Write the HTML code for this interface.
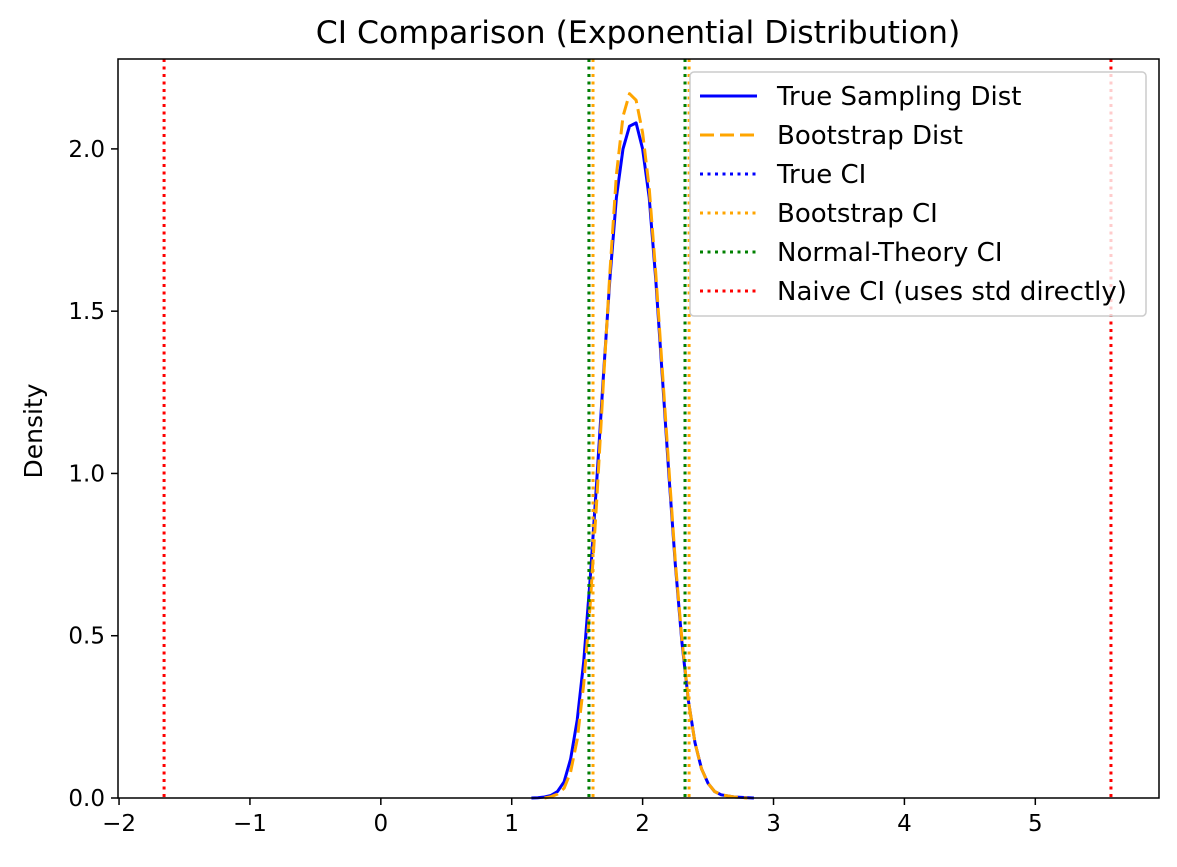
<!DOCTYPE html>
<html><head><meta charset="utf-8"><style>
body{margin:0;background:#fff}
svg text{font-family:"DejaVu Sans","Liberation Sans",sans-serif;fill:#000}
</style></head><body>
<svg id="chart" width="1177" height="862" xmlns="http://www.w3.org/2000/svg">
<text x="638" y="43" font-size="31.5" text-anchor="middle">CI Comparison (Exponential Distribution)</text>
<text x="0" y="0" font-size="25" text-anchor="middle" transform="translate(42,431) rotate(-90)">Density</text>
<g id="plot"></g>
<rect x="118" y="59" width="1041" height="739" fill="none" stroke="#000" stroke-width="1.5"/>
<g id="legend"></g>
</svg>
<script>
const xTicks=[-2,-1,0,1,2,3,4,5];
const yTicks=[0,0.5,1.0,1.5,2.0];
const yTickLabels=["0.0","0.5","1.0","1.5","2.0"];
const trueX=[1.15,1.2,1.25,1.3,1.35,1.4,1.45,1.5,1.55,1.6,1.65,1.7,1.75,1.8,1.85,1.9,1.95,2.0,2.05,2.1,2.15,2.2,2.25,2.3,2.35,2.4,2.45,2.5,2.55,2.6,2.7,2.85];
const trueY=[0,0.001,0.003,0.008,0.02,0.05,0.12,0.24,0.42,0.68,0.98,1.3,1.6,1.85,2.0,2.07,2.08,2.0,1.85,1.6,1.3,1.0,0.72,0.48,0.3,0.17,0.09,0.045,0.02,0.01,0.003,0];
const bootX=[1.25,1.3,1.35,1.4,1.45,1.5,1.55,1.6,1.65,1.7,1.75,1.8,1.85,1.9,1.95,2.0,2.05,2.1,2.15,2.2,2.25,2.3,2.35,2.4,2.45,2.5,2.55,2.6,2.7,2.8];
const bootY=[0,0.004,0.012,0.03,0.08,0.18,0.35,0.6,0.92,1.28,1.62,1.92,2.1,2.17,2.15,2.05,1.88,1.62,1.32,1.02,0.73,0.49,0.3,0.17,0.09,0.045,0.02,0.01,0.003,0];
const ciNames=["true-ci","bootstrap-ci","normal-theory-ci","naive-ci"];
const ciLow=[1.59,1.621,1.59,-1.656];
const ciHigh=[2.324,2.355,2.324,5.578];
const ciColors=["blue","orange","green","red"];
const legendLabels=["True Sampling Dist","Bootstrap Dist","True CI","Bootstrap CI","Normal-Theory CI","Naive CI (uses std directly)"];
const legendColors=["blue","orange","blue","orange","green","red"];
const legendDash=["","14,6","3,4.5","3,4.5","3,4.5","3,4.5"];

const NS="http://www.w3.org/2000/svg";
const X0=-2.008,X1=5.945,Y0=0,Y1=2.277;
const L=118,R=1159,T=59,B=798;
const sx=v=>L+(v-X0)/(X1-X0)*(R-L);
const sy=v=>B-(v-Y0)/(Y1-Y0)*(B-T);
const plot=document.getElementById('plot');
function mk(tag,attrs,parent){const e=document.createElementNS(NS,tag);for(const k in attrs)e.setAttribute(k,attrs[k]);parent.appendChild(e);return e;}
xTicks.forEach(t=>{
  const l=mk('line',{x1:sx(t),x2:sx(t),y1:B,y2:B+7,stroke:'#000','stroke-width':1.5},plot);
  
  
  const tx=mk('text',{x:sx(t),y:B+33,'font-size':23,'text-anchor':'middle'},plot);
  tx.textContent=(t<0?'\u2212'+(-t):String(t));
  
  
});
yTicks.forEach((t,i)=>{
  const l=mk('line',{x1:L-7,x2:L,y1:sy(t),y2:sy(t),stroke:'#000','stroke-width':1.5},plot);
  
  
  const tx=mk('text',{x:L-13,y:sy(t)+8,'font-size':23,'text-anchor':'end'},plot);
  tx.textContent=yTickLabels[i];
  
  
});
function path(xs,ys){return xs.map((x,i)=>(i?'L':'M')+sx(x).toFixed(1)+','+sy(ys[i]).toFixed(1)).join(' ');}
const p1=mk('path',{d:path(trueX,trueY),fill:'none',stroke:'blue','stroke-width':3,'stroke-linejoin':'round'},plot);


const p2=mk('path',{d:path(bootX,bootY),fill:'none',stroke:'orange','stroke-width':3,'stroke-dasharray':'14,6','stroke-linejoin':'round'},plot);


ciNames.forEach((n,i)=>{
  [ciLow[i],ciHigh[i]].forEach((v,j)=>{
    const l=mk('line',{x1:sx(v),x2:sx(v),y1:T,y2:B,stroke:ciColors[i],'stroke-width':3,'stroke-dasharray':'3,4.5'},plot);
    
    
  });
});
const lg=document.getElementById('legend');
const box=mk('rect',{x:690,y:72,width:456,height:244,rx:4,fill:'#fff','fill-opacity':0.8,stroke:'#ccc','stroke-width':1.5},lg);


legendLabels.forEach((s,i)=>{
  const y=96+i*39;
  const l=mk('line',{x1:700,x2:757,y1:y,y2:y,stroke:legendColors[i],'stroke-width':3},lg);
  if(legendDash[i])l.setAttribute('stroke-dasharray',legendDash[i]);
  
  
  const t=mk('text',{x:777,y:y+9,'font-size':26},lg);
  t.textContent=s;
  
  
});
</script>
</body></html>
